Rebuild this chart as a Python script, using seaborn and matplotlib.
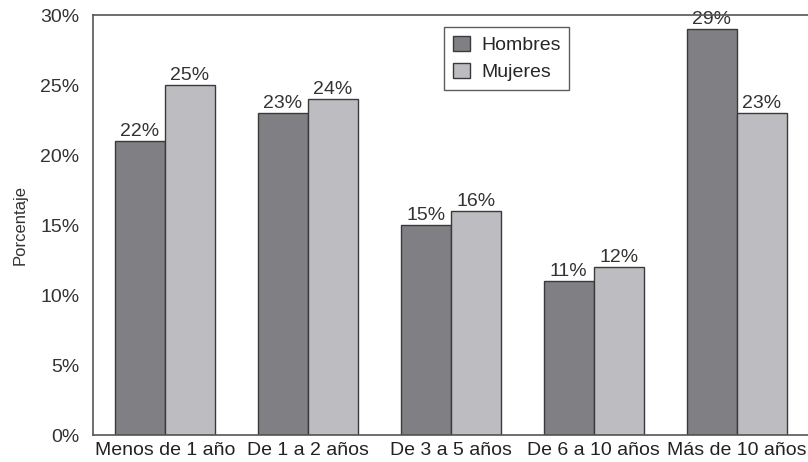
import numpy as np
import pandas as pd
import matplotlib
matplotlib.use("Agg")
import matplotlib.pyplot as plt
import seaborn as sns

categorias = ["Menos de 1 año", "De 1 a 2 años", "De 3 a 5 años", "De 6 a 10 años", "Más de 10 años"]
hombres = [21, 23, 15, 11, 29]
mujeres = [25, 24, 16, 12, 23]
etiquetas_hombres = ["22%", "23%", "15%", "11%", "29%"]
etiquetas_mujeres = ["25%", "24%", "16%", "12%", "23%"]
series = ["Hombres", "Mujeres"]
colores = ["#808084", "#bdbdc1"]
y_ticks = [0, 5, 10, 15, 20, 25, 30]

df = pd.DataFrame({
    "categoria": categorias * 2,
    "sexo": [series[0]] * len(categorias) + [series[1]] * len(categorias),
    "valor": hombres + mujeres,
})

sns.set_style("white")
plt.rcParams["font.family"] = ["Liberation Sans", "DejaVu Sans"]

fig = plt.figure(figsize=(8.08, 4.62), dpi=100)
ax = fig.add_axes([0.1155, 0.058, 0.8845, 0.909])

sns.barplot(data=df, x="categoria", y="valor", hue="sexo", order=categorias,
            hue_order=series, palette=colores, width=0.7, gap=0,
            edgecolor="#3a3a3a", linewidth=1.0, saturation=1, ax=ax, zorder=3)

for cont, labs in zip(ax.containers, [etiquetas_hombres, etiquetas_mujeres]):
    ax.bar_label(cont, labels=labs, padding=1, fontsize=14, color="#333333")

ax.set_ylim(0, 30)
ax.set_xlim(-0.5, len(categorias) - 0.5)
ax.set_yticks(y_ticks)
ax.set_yticklabels([f"{t}%" for t in y_ticks], fontsize=14, color="#333333")
ax.set_xticks(range(len(categorias)))
ax.set_xticklabels(categorias, fontsize=14, color="#222222")
ax.set_xticks(np.arange(0.5, len(categorias) - 0.5, 1), minor=True)
ax.tick_params(axis="x", which="major", length=0, pad=5)
ax.tick_params(axis="x", which="minor", direction="in", length=7, width=1, color="#444444")
ax.tick_params(axis="y", length=0, pad=10)

ax.set_xlabel("")
ax.set_ylabel("Porcentaje", fontsize=12, color="#333333", labelpad=9)

# gridlines only below the top spine
ax.set_axisbelow(True)
ax.set_yticks([t for t in y_ticks if t < 30], minor=True)
ax.yaxis.grid(False, which="major")
ax.yaxis.grid(True, which="minor", linestyle=(0, (5, 4)), color="#444444", linewidth=1)
ax.tick_params(axis="y", which="minor", length=0)

for side in ["left", "bottom", "top"]:
    ax.spines[side].set_visible(True)
    ax.spines[side].set_color("#555555")
    ax.spines[side].set_linewidth(1.2)
    ax.spines[side].set_zorder(5)
ax.spines["right"].set_visible(False)

leg = ax.legend(loc="upper left", bbox_to_anchor=(0.491, 0.972), borderaxespad=0,
                fontsize=14, frameon=True, fancybox=False, edgecolor="#333333",
                handlelength=0.85, handleheight=0.85, handletextpad=0.6,
                borderpad=0.45, labelspacing=0.45, title=None)
leg.get_frame().set_linewidth(1.0)

fig.savefig("out.png", dpi=100)
